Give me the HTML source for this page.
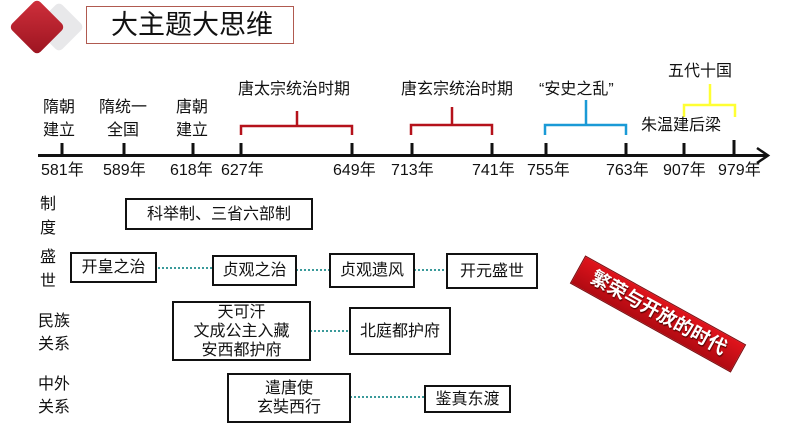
<!DOCTYPE html>
<html><head><meta charset="utf-8"><style>
body{margin:0;width:794px;height:447px;background:#fff;position:relative;overflow:hidden;font-family:"Liberation Sans","Noto Sans CJK SC",sans-serif;color:#111}
.t{position:absolute;white-space:nowrap;font-size:16px;line-height:23px}
.b{position:absolute;border:2px solid #111;box-sizing:border-box;display:flex;align-items:center;justify-content:center;text-align:center;font-size:16px;line-height:19px;background:#fff}
</style></head><body>
<div style="position:absolute;left:41px;top:9px;width:36px;height:36px;background:#e8e8ea;transform:rotate(45deg);border-radius:5px"></div>
<div style="position:absolute;left:17px;top:7px;width:40px;height:40px;background:linear-gradient(135deg,#d0303c,#9c1420);transform:rotate(45deg);border-radius:5px"></div>
<div style="position:absolute;left:86px;top:6px;width:208px;height:38px;border:1px solid #b05a50;box-sizing:border-box;font-size:27px;line-height:36px;padding-left:24px">大主题大思维</div>
<svg style="position:absolute;left:0;top:0" width="794" height="447">
<g stroke="#111" stroke-width="3" fill="none">
<line x1="38" y1="155.5" x2="768" y2="155.5"/>
<polyline points="757,148 768,155.5 757,163" stroke-width="2.5"/>
<line x1="62" y1="143" x2="62" y2="155"/><line x1="124" y1="143" x2="124" y2="155"/><line x1="193" y1="143" x2="193" y2="155"/><line x1="241" y1="143" x2="241" y2="155"/><line x1="352" y1="143" x2="352" y2="155"/><line x1="412" y1="143" x2="412" y2="155"/><line x1="492" y1="143" x2="492" y2="155"/><line x1="546" y1="143" x2="546" y2="155"/><line x1="626" y1="143" x2="626" y2="155"/><line x1="684" y1="143" x2="684" y2="155"/><line x1="734" y1="140" x2="734" y2="155"/>
</g>
<g fill="none" stroke-width="2.5">
<path d="M241,135 V126 H352 V135 M297,126 V111" stroke="#b5121b"/>
<path d="M411,135 V125 H492 V135 M452,125 V107" stroke="#b5121b"/>
<path d="M545,135 V125 H626 V135 M586,125 V100" stroke="#1a9ad6"/>
<path d="M684,117 V105 H735 V117 M710,105 V84" stroke="#ffff33"/>
</g>
<g stroke="#3a9a9a" stroke-width="2" stroke-dasharray="2,2">
<line x1="158" y1="268" x2="212" y2="268"/><line x1="296" y1="270" x2="329" y2="270"/><line x1="414" y1="270" x2="446" y2="270"/><line x1="310" y1="331" x2="349" y2="331"/><line x1="350" y1="397" x2="424" y2="397"/>
</g>
</svg>
<div class="t" style="left:43px;top:96px">隋朝<br>建立</div>
<div class="t" style="left:99px;top:96px;text-align:center">隋统一<br>全国</div>
<div class="t" style="left:176px;top:96px">唐朝<br>建立</div>
<div class="t" style="left:238px;top:78px">唐太宗统治时期</div>
<div class="t" style="left:401px;top:78px">唐玄宗统治时期</div>
<div class="t" style="left:539px;top:78px">“安史之乱”</div>
<div class="t" style="left:668px;top:60px">五代十国</div>
<div class="t" style="left:641px;top:114px">朱温建后梁</div>
<div class="t" style="left:41px;top:159px">581年</div><div class="t" style="left:103px;top:159px">589年</div><div class="t" style="left:170px;top:159px">618年</div><div class="t" style="left:221px;top:159px">627年</div><div class="t" style="left:333px;top:159px">649年</div><div class="t" style="left:391px;top:159px">713年</div><div class="t" style="left:472px;top:159px">741年</div><div class="t" style="left:527px;top:159px">755年</div><div class="t" style="left:606px;top:159px">763年</div><div class="t" style="left:663px;top:159px">907年</div><div class="t" style="left:718px;top:159px">979年</div>
<div class="t" style="left:40px;top:193px;line-height:24px">制<br>度</div>
<div class="t" style="left:40px;top:246px;line-height:24px">盛<br>世</div>
<div class="t" style="left:38px;top:310px">民族<br>关系</div>
<div class="t" style="left:38px;top:373px">中外<br>关系</div>
<div class="b" style="left:125px;top:198px;width:188px;height:32px">科举制、三省六部制</div>
<div class="b" style="left:70px;top:252px;width:87px;height:31px">开皇之治</div>
<div class="b" style="left:212px;top:255px;width:85px;height:31px">贞观之治</div>
<div class="b" style="left:329px;top:253px;width:86px;height:35px">贞观遗风</div>
<div class="b" style="left:446px;top:253px;width:92px;height:36px">开元盛世</div>
<div class="b" style="left:172px;top:301px;width:139px;height:60px">天可汗<br>文成公主入藏<br>安西都护府</div>
<div class="b" style="left:349px;top:307px;width:102px;height:48px">北庭都护府</div>
<div class="b" style="left:227px;top:373px;width:124px;height:50px">遣唐使<br>玄奘西行</div>
<div class="b" style="left:424px;top:385px;width:87px;height:28px">鉴真东渡</div>
<div style="position:absolute;left:566px;top:298px;width:182px;height:30px;background:linear-gradient(#e0141c,#b00a12);border:1px solid #7a0a0e;transform:rotate(29deg);color:#fff;font-weight:bold;font-size:19px;line-height:30px;text-align:center;font-family:'Liberation Sans','Noto Sans CJK SC',sans-serif;text-shadow:1px 1px 1px #500">繁荣与开放的时代</div>
</body></html>
